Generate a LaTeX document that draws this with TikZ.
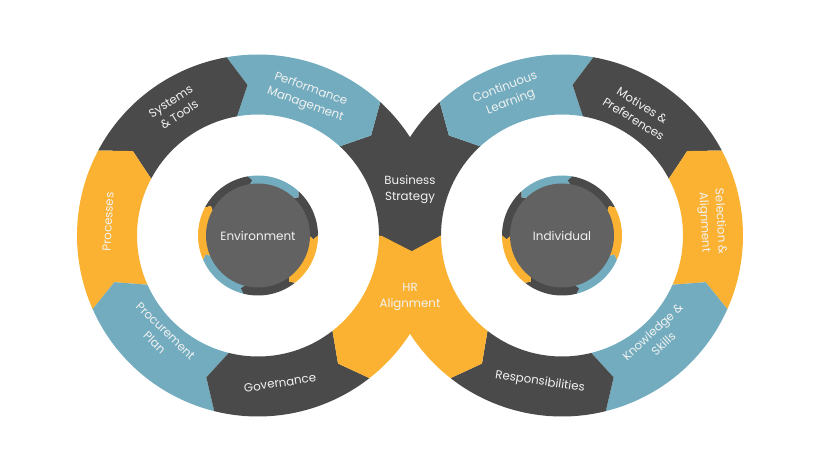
\documentclass[tikz,border=0pt]{standalone}
\usepackage{fontspec}
\setmainfont{Poppins}
\usepackage{xcolor}
\usetikzlibrary{calc}
\definecolor{segdark}{HTML}{4A4A4A}
\definecolor{segblue}{HTML}{72ACBE}
\definecolor{segorange}{HTML}{FBB232}
\definecolor{hubgray}{HTML}{626262}
\definecolor{labeltext}{HTML}{F2F2F2}
\tikzset{
  seglabel/.style={ % text sitting on a ring segment
    text=labeltext, align=center, inner sep=0pt,
    font=\fontsize{11.8}{16}\selectfont
  },
  hub/.style={  % grey disc in the middle of a ring
    circle, fill=hubgray, minimum size=104pt, inner sep=0pt,
    text=labeltext, font=\fontsize{12}{14}\selectfont
  }
}
% one piece of a ring, cut with an arrow-like notch at both ends
% #1 colour, #2 first angle, #3 second angle, #4 inner r, #5 outer r, #6 tip shift
\newcommand{\ringpiece}[6]{%
  \fill[#1] (#2:#5) arc[start angle=#2, end angle=#3, radius=#5]
    -- ({#3-#6}:{(#4+#5)/2}) -- (#3:#4)
    arc[start angle=#3, end angle=#2, radius=#4]
    -- ({#2-#6}:{(#4+#5)/2}) -- cycle;
}

\begin{document}
\begin{tikzpicture}[x=1pt, y=1pt]
  \useasboundingbox (0,0) rectangle (840,472);

  % left loop, then the right one as its mirror image
  \begin{scope}[shift={(258,236.5)}]
    \foreach \a/\b/\col in {47.5/0/segdark, 100/47.5/segblue, 152/100/segdark,
        204/152/segorange, 256/204/segblue, 308/256/segdark, 360/308/segorange}{
      \ringpiece{\col}{\a}{\b}{121}{181}{6}
      \ringpiece{\col}{\a}{\b}{51}{60}{4}
    }
  \end{scope}
  \begin{scope}[shift={(562,236.5)}, xscale=-1]
    \foreach \a/\b/\col in {47.5/0/segdark, 100/47.5/segblue, 152/100/segdark,
        204/152/segorange, 256/204/segblue, 308/256/segdark, 360/308/segorange}{
      \ringpiece{\col}{\a}{\b}{121}{181}{6}
      \ringpiece{\col}{\a}{\b}{51}{60}{4}
    }
  \end{scope}

  \node[hub] (env) at (258,236.5) {Environment};
  \node[hub] (indiv) at (562,236.5) {Individual};

  \node[seglabel, rotate=-20] (perf) at (308,375) {Performance\\Management};
  \node[seglabel, rotate=33] (systools) at (175,364) {Systems\\\& Tools};
  \node[seglabel, rotate=87] (proc) at (108,250) {Processes};
  \node[seglabel, rotate=-44] (procplan) at (160,135) {Procurement\\Plan};
  \node[seglabel, rotate=8.5] (gov) at (280,89) {Governance};
  \node[seglabel] (bizstrat) at (410,282) {Business\\Strategy};
  \node[seglabel] (hralign) at (410,175) {HR\\Alignment};
  \node[seglabel, rotate=21] (contlearn) at (508,377) {Continuous\\Learning};
  \node[seglabel, rotate=-32] (motives) at (638,360) {Motives \&\\Preferences};
  \node[seglabel, rotate=-87] (selection) at (712,250) {Selection \&\\Alignment};
  \node[seglabel, rotate=43] (knowledge) at (658,134) {Knowledge \&\\Skills};
  \node[seglabel, rotate=-8.5] (resp) at (540,90) {Responsibilities};
\end{tikzpicture}
\end{document}
